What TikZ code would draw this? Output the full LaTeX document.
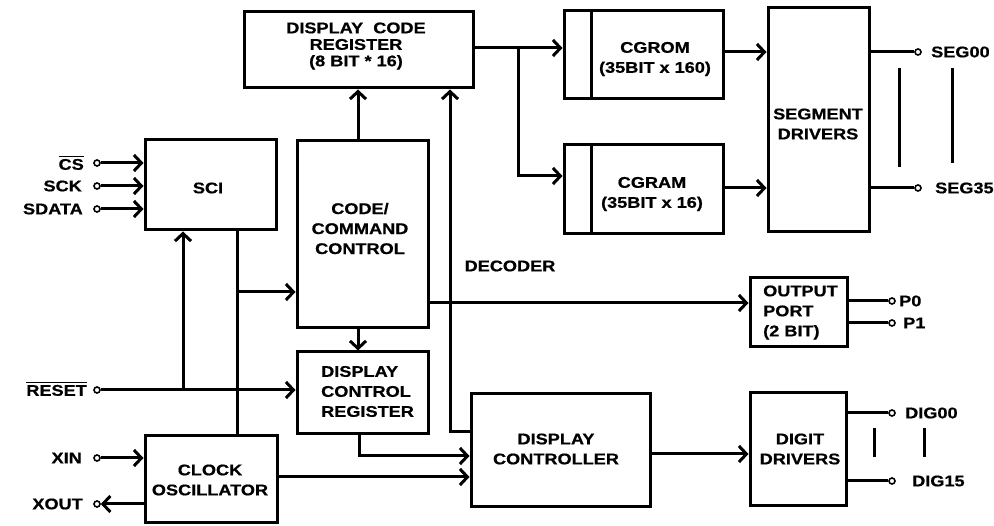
\documentclass[tikz,border=0pt]{standalone}
\usepackage{fontspec}
\setmainfont{Liberation Sans}[FakeStretch=1.17, FakeBold=0.6]
\usetikzlibrary{arrows.meta}
\newcommand\ovl[1]{\leavevmode\vbox{\hrule height 1.3pt\kern1.6pt\hbox{#1}}}
\begin{document}
\begin{tikzpicture}[x=1pt,y=-1pt,
  font=\fontsize{15.5}{20}\selectfont\bfseries,
  box/.style={draw, line width=3pt, inner sep=0pt},
  txt/.style={inner sep=0pt, align=center},
  txtl/.style={inner sep=0pt, align=left},
  wire/.style={line width=3pt},
  arr/.style={line width=3pt, -{Straight Barb[length=7.5pt,width=16pt]}},
  term/.style={circle, draw, line width=1.6pt, fill=white, inner sep=0pt, minimum size=6pt},
  lab/.style={inner sep=0pt}]
\fill[white] (0,0) rectangle (994,526);
\useasboundingbox (0,0) rectangle (994,526);

% boxes
\node[box, minimum width=229pt, minimum height=76pt] (dcr) at (358.5,50) {};
\node[box, minimum width=159pt, minimum height=88pt] (cgrom) at (643.5,55) {};
\node[box, minimum width=159pt, minimum height=89pt] (cgram) at (643.5,189.5) {};
\node[box, minimum width=101pt, minimum height=224pt] (seg) at (818.5,120) {};
\node[box, minimum width=131pt, minimum height=90pt] (sci) at (210.5,185) {};
\node[box, minimum width=131pt, minimum height=187pt] (ccc) at (362.5,234.5) {};
\node[box, minimum width=131pt, minimum height=82pt] (dcreg) at (362.5,393) {};
\node[box, minimum width=132pt, minimum height=87pt] (clk) at (211,479.5) {};
\node[box, minimum width=179pt, minimum height=113pt] (dctl) at (560.5,450.5) {};
\node[box, minimum width=96pt, minimum height=113pt] (digit) at (798,449.5) {};
\node[box, minimum width=97pt, minimum height=69pt] (oport) at (798.5,312.5) {};

\draw[wire] ([xshift=29pt]cgrom.north west) -- ([xshift=29pt]cgrom.south west);
\draw[wire] ([xshift=29pt]cgram.north west) -- ([xshift=29pt]cgram.south west);

% box texts
\node[txt, font=\fontsize{15.5}{16.5}\selectfont\bfseries] (dcr-t) at (356,46) {DISPLAY\ \ CODE\\REGISTER\\(8 BIT * 16)};
\node[txt] (cgrom-t) at (655,59) {CGROM\\(35BIT x 160)};
\node[txt] (cgram-t) at (652,194) {CGRAM\\(35BIT x 16)};
\node[txt] (seg-t) at (818,124) {SEGMENT\\DRIVERS};
\node[txt] (sci-t) at (208,188) {SCI};
\node[txt] (ccc-t) at (360,228.5) {CODE/\\COMMAND\\CONTROL};
\node[txtl, anchor=west] (dcreg-t) at (321,391.5) {DISPLAY\\CONTROL\\REGISTER};
\node[txt] (clk-t) at (210,480) {CLOCK\\OSCILLATOR};
\node[txt] (dctl-t) at (556,449) {DISPLAY\\CONTROLLER};
\node[txt] (digit-t) at (800,449) {DIGIT\\DRIVERS};
\node[txtl, anchor=west] (oport-t) at (763,312.5) {OUTPUT\\PORT\\(2 BIT)};
\node[txt] (dec-t) at (510,266) {DECODER};

% terminals
\node[term] (tcs) at (97,163) {};
\node[term] (tsck) at (97,186) {};
\node[term] (tsd) at (97,209) {};
\node[term] (trst) at (97,390) {};
\node[term] (txin) at (97,458) {};
\node[term] (txout) at (97,504) {};
\node[term] (tseg0) at (918,52) {};
\node[term] (tseg35) at (918,188) {};
\node[term] (tp0) at (892,301) {};
\node[term] (tp1) at (892,323) {};
\node[term] (tdig0) at (892,413) {};
\node[term] (tdig15) at (892,481) {};

% terminal labels
\node[lab, anchor=east] (lcs) at (84,163) {\ovl{CS}};
\node[lab, anchor=east] (lsck) at (82,186) {SCK};
\node[lab, anchor=east] (lsd) at (83,209) {SDATA};
\node[lab, anchor=east] (lrst) at (87,389) {\ovl{RESET}};
\node[lab, anchor=east] (lxin) at (82,458) {XIN};
\node[lab, anchor=east] (lxout) at (83,504) {XOUT};
\node[lab, anchor=west] (lseg0) at (931,52) {SEG00};
\node[lab, anchor=west] (lseg35) at (935,188) {SEG35};
\node[lab, anchor=west] (lp0) at (899,301) {P0};
\node[lab, anchor=west] (lp1) at (903,323) {P1};
\node[lab, anchor=west] (ldig0) at (905,413) {DIG00};
\node[lab, anchor=west] (ldig15) at (912,481) {DIG15};

% helper coordinates
\coordinate (jr) at (183,390);
\coordinate (js) at (237,292);
\coordinate (xc) at (358,0);
\coordinate (yo) at (0,303);
\coordinate (jd) at (450,432);
\coordinate (ja) at (518,48);
\coordinate (jb) at (518,176);
\coordinate (jc) at (359,456);
\coordinate (yk) at (0,477);
\coordinate (yd) at (0,454);

% connectors
\draw[arr] (tcs) -- (tcs -| sci.west);
\draw[arr] (tsck) -- (tsck -| sci.west);
\draw[arr] (tsd) -- (tsd -| sci.west);
\draw[arr] (trst) -- (trst -| dcreg.west);
\draw[arr] (jr) -- (jr |- sci.south);
\draw[wire] (sci.south -| js) -- (clk.north -| js);
\draw[arr] (js) -- (js -| ccc.west);
\draw[arr] (ccc.north -| xc) -- (dcr.south -| xc);
\draw[arr] (ccc.south -| xc) -- (dcreg.north -| xc);
\draw[arr] (ccc.east |- yo) -- (oport.west |- yo);
\draw[arr] (dctl.west |- jd) -- (jd) -- (dcr.south -| jd);
\draw[arr] (dcr.east |- ja) -- (cgrom.west |- ja);
\draw[arr] (ja) -- (jb) -- (jb -| cgram.west);
\draw[arr] (cgrom.east |- tseg0) -- (seg.west |- tseg0);
\draw[arr] (cgram.east |- tseg35) -- (seg.west |- tseg35);
\draw[wire] (seg.east |- tseg0) -- (tseg0);
\draw[wire] (seg.east |- tseg35) -- (tseg35);
\draw[arr] (dcreg.south -| jc) -- (jc) -- (jc -| dctl.west);
\draw[arr] (clk.east |- yk) -- (dctl.west |- yk);
\draw[arr] (dctl.east |- yd) -- (digit.west |- yd);
\draw[wire] (digit.east |- tdig0) -- (tdig0);
\draw[wire] (digit.east |- tdig15) -- (tdig15);
\draw[wire] (oport.east |- tp0) -- (tp0);
\draw[wire] (oport.east |- tp1) -- (tp1);
\draw[arr] (txin) -- (txin -| clk.west);
\draw[arr] (clk.west |- txout) -- (txout);

% continuation bars
\coordinate (b1a) at (899,68); \coordinate (b1b) at (899,167);
\coordinate (b2a) at (952,68); \coordinate (b2b) at (952,163);
\coordinate (b3a) at (874,428); \coordinate (b3b) at (874,457);
\coordinate (b4a) at (924,428); \coordinate (b4b) at (924,457);
\draw[wire] (b1a) -- (b1b);
\draw[wire] (b2a) -- (b2b);
\draw[wire] (b3a) -- (b3b);
\draw[wire] (b4a) -- (b4b);
\end{tikzpicture}
\end{document}
